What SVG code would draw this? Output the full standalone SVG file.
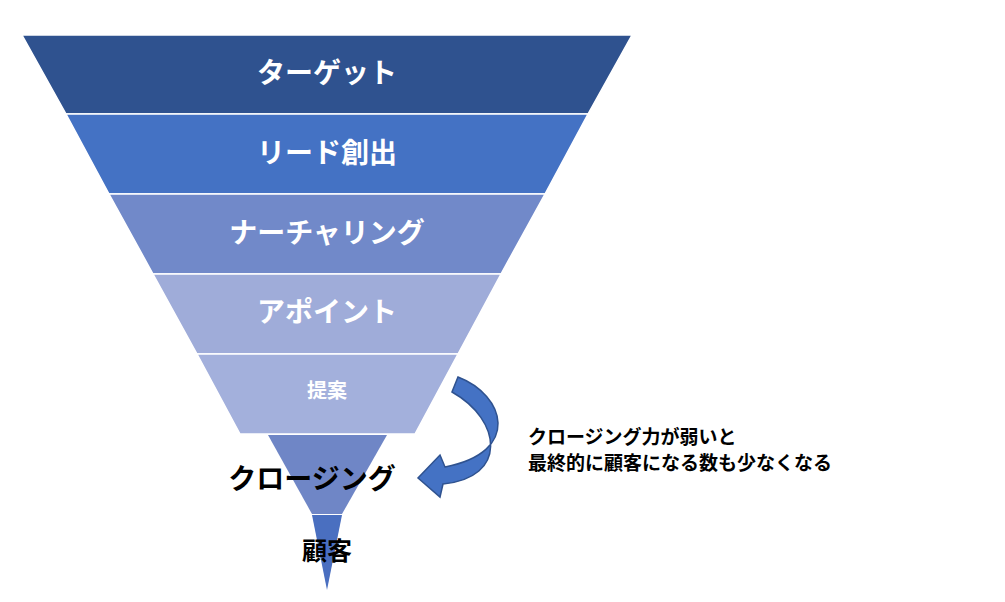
<svg xmlns="http://www.w3.org/2000/svg" width="1005" height="602" viewBox="0 0 1005 602">
<style>
text{font-family:"Noto Sans CJK JP","Noto Sans",sans-serif;font-weight:bold;text-anchor:middle}
.w{fill:#fff;font-size:28px}
.b{fill:#000;font-size:28px}
.n{fill:#000;font-size:19px;text-anchor:start}
.l{stroke:#fff;stroke-width:1.5}
</style>
<rect width="1005" height="602" fill="#fff"/>
<g id="target"><polygon class="l" points="22,35 632,35 588,114 66,114" fill="#2F528F"/><text class="w" x="327" y="83">ターゲット</text></g>
<g id="lead"><polygon class="l" points="66,114 588,114 545,194 109,194" fill="#4472C4"/><text class="w" x="327" y="163">リード創出</text></g>
<g id="nurturing"><polygon class="l" points="109,194 545,194 501,274 153,274" fill="#7189C9"/><text class="w" x="327" y="243">ナーチャリング</text></g>
<g id="appoint"><polygon class="l" points="153,274 501,274 458,354 197,354" fill="#9FACD9"/><text class="w" x="327" y="322">アポイント</text></g>
<g id="proposal"><polygon class="l" points="197,354 458,354 415,434 240,434" fill="#A3B0DC"/><text class="w" style="font-size:20px" x="327" y="398">提案</text></g>
<g id="closing"><polygon points="268,435 387,435 342,514 312,514" fill="#6F86C6"/><text class="b" x="312" y="489">クロージング</text></g>
<g id="customer"><polygon points="312,515 342,515 327,590" fill="#4A6FC0"/><text class="b" style="font-size:25px" x="327" y="560">顧客</text></g>
<g id="connectors"><path d="M458,377 C505,395 522,452 445,467 L440,455 L418,478 L440,497 L443,484 C508,478 502,420 452,392 Z" fill="#4472C4" stroke="#2F528F" stroke-width="1.5"/></g>
<g id="note"><text class="n" x="528" y="444">クロージング力が弱いと</text><text class="n" x="528" y="470">最終的に顧客になる数も少なくなる</text></g>
</svg>
